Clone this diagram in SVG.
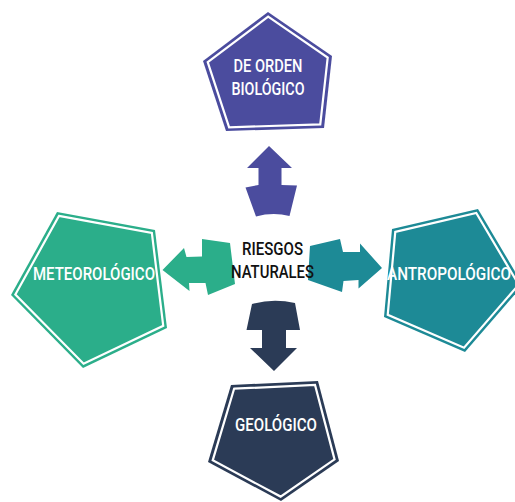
<svg xmlns="http://www.w3.org/2000/svg" width="515" height="502" viewBox="0 0 515 502">
  <style>
    .ring { fill: none; stroke: #ffffff; stroke-width: 2.2; stroke-linejoin: miter; }
    .label { font-family: Roboto, "Liberation Sans", "DejaVu Sans", sans-serif; font-weight: 500; font-size: 18.5px; text-anchor: middle; }
    .light { fill: #ffffff; }
    .dark { fill: #111111; }
  </style>
  <rect width="515" height="502" fill="#ffffff"/>

  <!-- connectors: block arrows radiating from the centre -->
  <g id="connectors">
    <path id="arrow-up" fill="#4b4c9e" d="M269,146 L292,168 L281.5,168 L281.5,185 L297,185.5 L289.5,216 Q273,212 256,216.5 L245.5,187.5 L258.5,185 L258.5,168 L247,168 Z"/>
    <path id="arrow-down" fill="#2b3b56" d="M252,304 Q273,298 295,303 L300,330 L286,330 L286,348 L297,348 L274,371 L250,348 L262,348 L262,330 L246.5,330 Z"/>
    <path id="arrow-left" fill="#2bae8a" d="M162.5,270 L184,248 L186.5,257 L202,256.5 L202,239 L230,243 L235,284 L208,295 L205.5,283 L189,283 L189.5,291 Z"/>
    <path id="arrow-right" fill="#1d8a96" d="M310,246 L340,239 L343,252 L360,252 L360,243.5 L382,268 L358.5,288.5 L358.5,280 L343.5,281 L342,292 L308,280 Z"/>
  </g>

  <!-- top node -->
  <g id="node-biologico">
    <polygon fill="#4b4c9e" points="268,12 332,56 324,128 226,131 203,61"/>
    <polygon class="ring" transform="translate(270.6,77.6) scale(0.93) translate(-270.6,-77.6)" vector-effect="non-scaling-stroke" points="268,12 332,56 324,128 226,131 203,61"/>
    <text class="label light" x="268" y="72" textLength="69" lengthAdjust="spacingAndGlyphs">DE ORDEN</text>
    <text class="label light" x="268" y="94.5" textLength="73" lengthAdjust="spacingAndGlyphs">BIOLÓGICO</text>
  </g>

  <!-- left node -->
  <g id="node-meteorologico">
    <polygon fill="#2bae8a" points="57,212 155,230 167,328 83,368 11,295"/>
    <polygon class="ring" transform="translate(94.6,286.6) scale(0.948) translate(-94.6,-286.6)" vector-effect="non-scaling-stroke" points="57,212 155,230 167,328 83,368 11,295"/>
    <text class="label light" x="94" y="280" textLength="122" lengthAdjust="spacingAndGlyphs">METEOROLÓGICO</text>
  </g>

  <!-- right node -->
  <g id="node-antropologico">
    <polygon fill="#1d8a96" points="392,229 478,209 523,285 465,352 384,317"/>
    <polygon class="ring" transform="translate(448.4,278.4) scale(0.942) translate(-448.4,-278.4)" vector-effect="non-scaling-stroke" points="392,229 478,209 523,285 465,352 384,317"/>
    <text class="label light" x="449" y="280" textLength="124" lengthAdjust="spacingAndGlyphs">ANTROPOLÓGICO</text>
  </g>

  <!-- bottom node -->
  <g id="node-geologico">
    <polygon fill="#2b3b56" points="231,385 318,381 339,461 281,501 208,462"/>
    <polygon class="ring" transform="translate(275.4,438) scale(0.93) translate(-275.4,-438)" vector-effect="non-scaling-stroke" points="231,385 318,381 339,461 281,501 208,462"/>
    <text class="label light" x="276" y="431" textLength="82" lengthAdjust="spacingAndGlyphs">GEOLÓGICO</text>
  </g>

  <!-- centre label -->
  <g id="node-centro">
    <text class="label dark" x="272.5" y="255" textLength="61" lengthAdjust="spacingAndGlyphs">RIESGOS</text>
    <text class="label dark" x="272.5" y="278" textLength="83" lengthAdjust="spacingAndGlyphs">NATURALES</text>
  </g>
</svg>
